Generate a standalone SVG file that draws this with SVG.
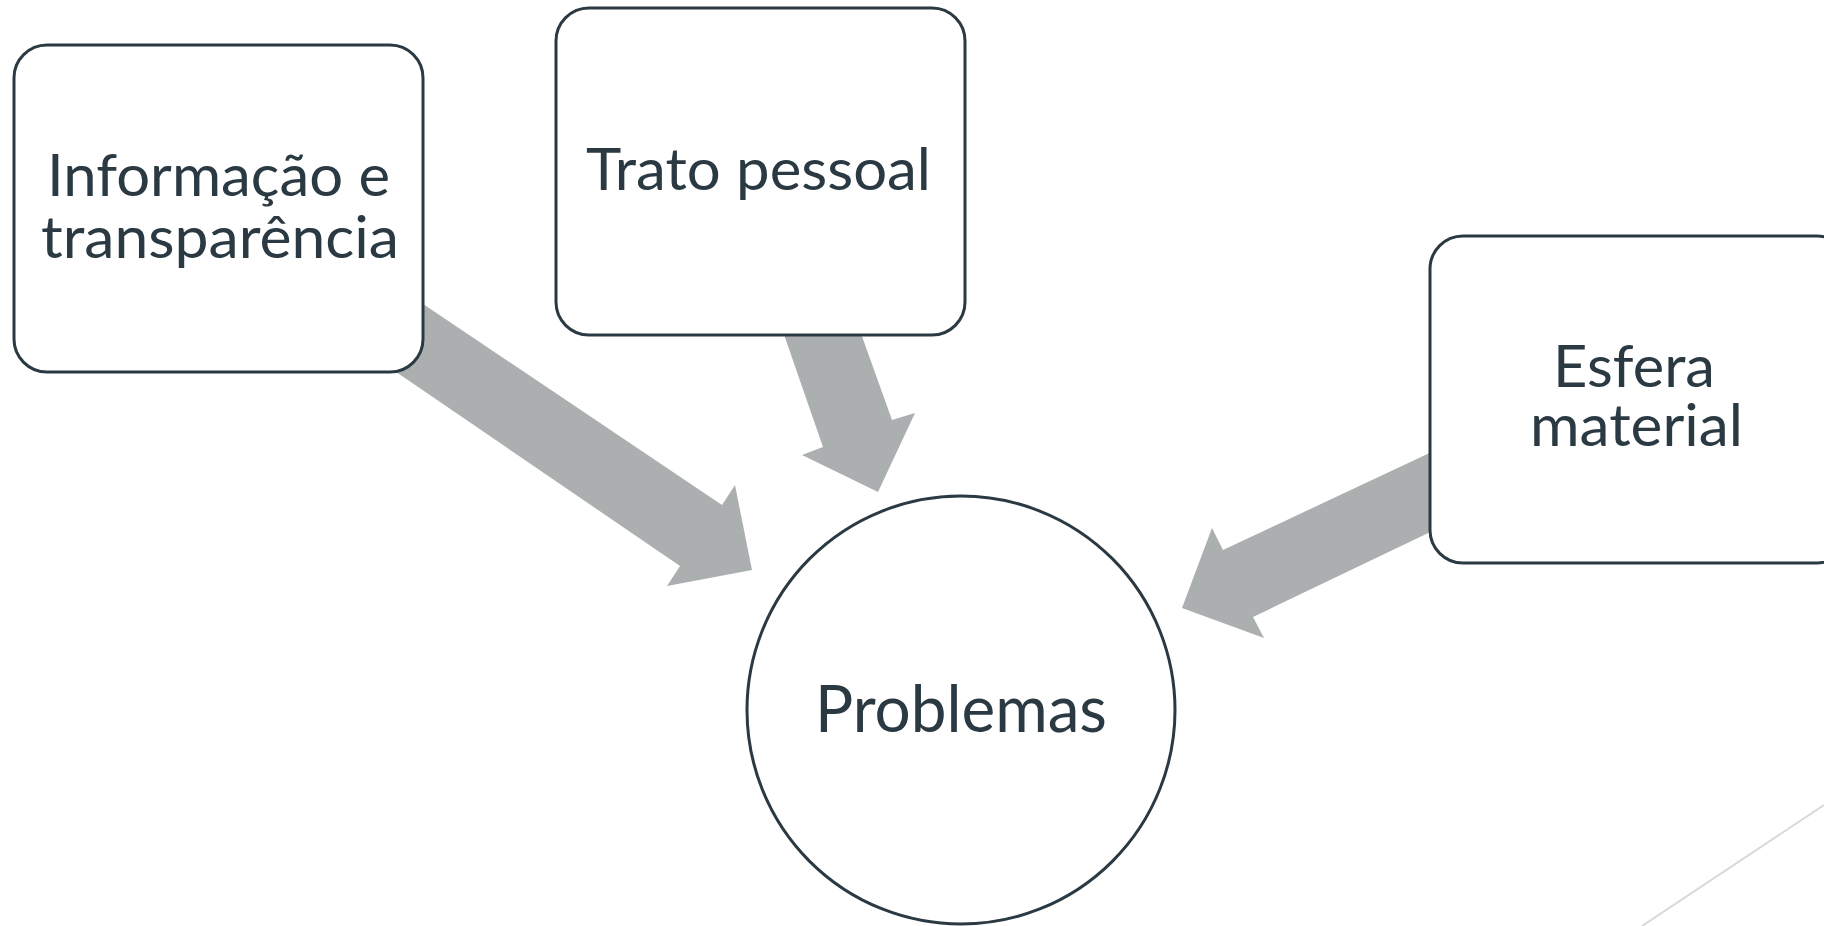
<svg xmlns="http://www.w3.org/2000/svg" width="1824" height="926" viewBox="0 0 1824 926">
<style>
.box{fill:#ffffff;stroke:#2b3a42;stroke-width:3}
.arrow{fill:#acafaf;stroke:none}
.lbl{font-family:Lato,"Open Sans","Liberation Sans",sans-serif;fill:#2b3a42;font-size:58px}
.big{font-size:66px}
</style>
<rect width="1824" height="926" fill="#ffffff"/>
<line x1="1824" y1="805" x2="1642" y2="926" stroke="#d9d9d9" stroke-width="2"/>
<g id="connectors">
<polygon class="arrow" points="380,275 722,505 735,485 752,570 667,586 680,566 380,361"/>
<polygon class="arrow" points="772,300 823,447 802,455 878,492 915,413 892,420 849,300"/>
<polygon class="arrow" points="1470,434 1223,550 1212,528 1182,608 1264,638 1253,617 1470,513"/>
</g>
<g id="node-informacao">
<rect class="box" x="14" y="45" width="409" height="327" rx="33"/>
<text class="lbl" x="47" y="196" textLength="343" lengthAdjust="spacingAndGlyphs">Informação e</text>
<text class="lbl" x="41" y="258" textLength="358" lengthAdjust="spacingAndGlyphs">transparência</text>
</g>
<g id="node-trato">
<rect class="box" x="556" y="8" width="409" height="327" rx="33"/>
<text class="lbl" x="586" y="190" textLength="345" lengthAdjust="spacingAndGlyphs">Trato pessoal</text>
</g>
<g id="node-esfera">
<rect class="box" x="1430" y="236" width="420" height="327" rx="33"/>
<text class="lbl" x="1553" y="387" textLength="162" lengthAdjust="spacingAndGlyphs">Esfera</text>
<text class="lbl" x="1530" y="446" textLength="213" lengthAdjust="spacingAndGlyphs">material</text>
</g>
<g id="node-problemas">
<circle class="box" cx="961" cy="710" r="214"/>
<text class="lbl big" x="815" y="732" textLength="292" lengthAdjust="spacingAndGlyphs">Problemas</text>
</g>
</svg>
